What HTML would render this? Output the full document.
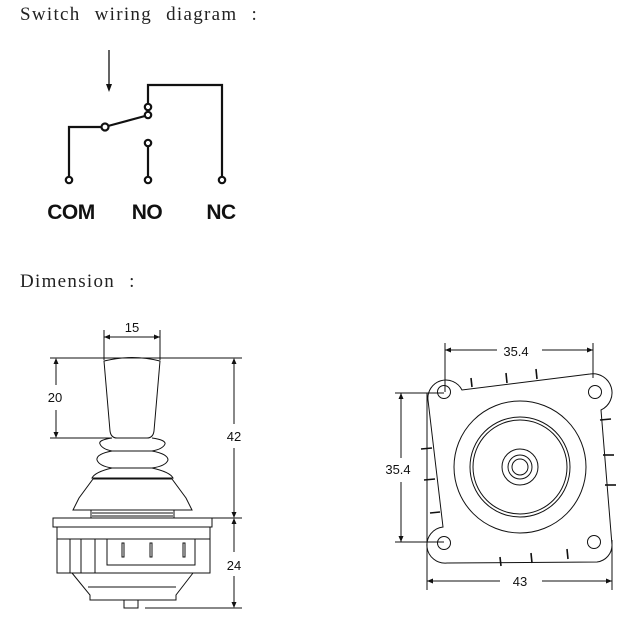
<!DOCTYPE html>
<html><head><meta charset="utf-8"><style>
html,body{margin:0;padding:0;background:#fff;}
svg{display:block;}
</style></head><body>
<svg width="625" height="628" viewBox="0 0 625 628" xmlns="http://www.w3.org/2000/svg">
<g font-family="'Liberation Serif', 'Noto Serif CJK SC', serif" font-size="19" fill="#222">
<text x="20" y="20" letter-spacing="1.3" word-spacing="8">Switch wiring diagram :</text>
<text x="20" y="287" letter-spacing="1.3" word-spacing="8">Dimension :</text>
</g>
<!-- wiring -->
<g stroke="#111" stroke-width="2.2" fill="none">
<line x1="109" y1="50" x2="109" y2="88" stroke-width="1.3"/>
<polyline points="148,104 148,85 222,85 222,177"/>
<polyline points="102,127 69,127 69,177"/>
<line x1="108" y1="126" x2="145" y2="116"/>
<line x1="148" y1="146" x2="148" y2="177"/>
<circle cx="148" cy="107" r="3.2" fill="#fff"/>
<circle cx="148" cy="115" r="3.2" fill="#fff"/>
<circle cx="105" cy="127" r="3.5" fill="#fff"/>
<circle cx="148" cy="143" r="3.2" fill="#fff"/>
<circle cx="69" cy="180" r="3.2" fill="#fff"/>
<circle cx="148" cy="180" r="3.2" fill="#fff"/>
<circle cx="222" cy="180" r="3.2" fill="#fff"/>
</g>
<path d="M106 84 L109 92 L112 84 Z" fill="#111"/>
<g font-family="'Liberation Sans', sans-serif" font-size="21" font-weight="bold" fill="#111" text-anchor="middle" letter-spacing="-0.5">
<text x="71" y="219">COM</text><text x="147" y="219">NO</text><text x="221" y="219">NC</text>
</g>
<!-- left drawing -->
<g stroke="#111" stroke-width="1" fill="none">
<line x1="104" y1="330" x2="104" y2="360"/><line x1="160" y1="330" x2="160" y2="360"/>
<line x1="104" y1="337" x2="160" y2="337"/>
<line x1="50" y1="358" x2="242" y2="358"/>
<line x1="50" y1="438" x2="112" y2="438"/>
<line x1="56" y1="360" x2="56" y2="385"/><line x1="56" y1="410" x2="56" y2="436"/>
<line x1="234" y1="360" x2="234" y2="424"/><line x1="234" y1="448" x2="234" y2="516"/>
<line x1="234" y1="520" x2="234" y2="552"/><line x1="234" y1="576" x2="234" y2="606"/>
<line x1="145" y1="608" x2="242" y2="608"/>
<line x1="212" y1="518" x2="242" y2="518"/>
<path d="M104 361 Q132 354 160 361 L154 431 Q153 438 147 438 L117 438 Q111 438 110 431 Z"/>
<path d="M112 438 Q98 440 100 444 Q102 449 112 451 Q96 454 97 460 Q99 466 112 468 Q95 472 92 478 L173 478 Q170 472 152 468 Q166 466 168 460 Q168 454 152 451 Q163 449 165 444 Q166 440 152 438"/>
<line x1="112" y1="451" x2="152" y2="451"/><line x1="112" y1="468" x2="152" y2="468"/>
<path d="M93 479 L172 479 L186 498 L192 510 L73 510 L79 498 Z"/>
<path d="M91 510 L91 518 M174 510 L174 518 M92 513 L173 513 M92 516 L173 516"/>
<rect x="53" y="518" width="159" height="9"/>
<rect x="57" y="527" width="153" height="46"/>
<line x1="70" y1="539" x2="70" y2="573"/><line x1="81" y1="539" x2="81" y2="573"/><line x1="95" y1="539" x2="95" y2="573"/>
<line x1="57" y1="539" x2="210" y2="539"/>
<polyline points="107,539 107,565 195,565 195,539"/>
<rect x="122" y="543" width="2" height="14"/><rect x="150" y="543" width="2" height="14"/><rect x="183" y="543" width="2" height="14"/>
<path d="M72 573 L90 595 L90 600 L176 600 L176 595 L193 573"/>
<line x1="88" y1="587" x2="176" y2="587"/>
<rect x="124" y="600" width="14" height="8"/>
</g>
<g fill="#111">
<path d="M104 337 l6 -2.5 v5 Z"/><path d="M160 337 l-6 -2.5 v5 Z"/>
<path d="M56 358 l-2.5 6 h5 Z"/><path d="M56 438 l-2.5 -6 h5 Z"/>
<path d="M234 358 l-2.5 6 h5 Z"/><path d="M234 518 l-2.5 -6 h5 Z"/>
<path d="M234 518 l-2.5 6 h5 Z"/><path d="M234 608 l-2.5 -6 h5 Z"/>
</g>
<g font-family="'Liberation Sans', sans-serif" font-size="13" fill="#111" text-anchor="middle">
<text x="132" y="332">15</text><text x="55" y="402">20</text><text x="234" y="441">42</text><text x="234" y="570">24</text>
<text x="516" y="356">35.4</text><text x="398" y="474">35.4</text><text x="520" y="586">43</text>
</g>
<!-- right drawing -->
<g stroke="#111" stroke-width="1" fill="none">
<line x1="445" y1="343" x2="445" y2="392"/><line x1="593" y1="343" x2="593" y2="378"/>
<line x1="445" y1="350" x2="497" y2="350"/><line x1="542" y1="350" x2="593" y2="350"/>
<line x1="395" y1="393" x2="444" y2="393"/><line x1="395" y1="542" x2="444" y2="542"/>
<line x1="401" y1="393" x2="401" y2="458"/><line x1="401" y1="482" x2="401" y2="542"/>
<line x1="427" y1="393" x2="427" y2="590"/><line x1="612" y1="540" x2="612" y2="590"/>
<line x1="427" y1="581" x2="500" y2="581"/><line x1="542" y1="581" x2="612" y2="581"/>
<path d="M428 400 A18 18 0 0 1 462 390 L590 374 A19 19 0 0 1 601 410 L612 545 A17 17 0 0 1 597 562 L447 563 A17 17 0 0 1 443 527 Z"/>
<circle cx="444" cy="392" r="6.5"/><circle cx="595" cy="392" r="6.5"/>
<circle cx="444" cy="543" r="6.5"/><circle cx="594" cy="542" r="6.5"/>
<circle cx="520" cy="467" r="66"/><circle cx="520" cy="467" r="50"/><circle cx="520" cy="467" r="47"/>
<circle cx="520" cy="467" r="18"/><circle cx="520" cy="467" r="12"/><circle cx="520" cy="467" r="8"/>
<g stroke-width="1.6">
<line x1="471" y1="378" x2="472" y2="387"/><line x1="506" y1="373" x2="507" y2="383"/><line x1="536" y1="369" x2="537" y2="379"/>
<line x1="600" y1="420" x2="611" y2="419"/><line x1="603" y1="455" x2="614" y2="455"/><line x1="605" y1="485" x2="616" y2="485"/>
<line x1="500" y1="557" x2="501" y2="566"/><line x1="531" y1="553" x2="532" y2="563"/><line x1="567" y1="549" x2="568" y2="559"/>
<line x1="421" y1="449" x2="432" y2="448"/><line x1="424" y1="480" x2="435" y2="479"/><line x1="430" y1="513" x2="440" y2="512"/>
</g>
</g>
<g fill="#111">
<path d="M445 350 l6 -2.5 v5 Z"/><path d="M593 350 l-6 -2.5 v5 Z"/>
<path d="M401 393 l-2.5 6 h5 Z"/><path d="M401 542 l-2.5 -6 h5 Z"/>
<path d="M427 581 l6 -2.5 v5 Z"/><path d="M612 581 l-6 -2.5 v5 Z"/>
</g>
</svg>
</body></html>
